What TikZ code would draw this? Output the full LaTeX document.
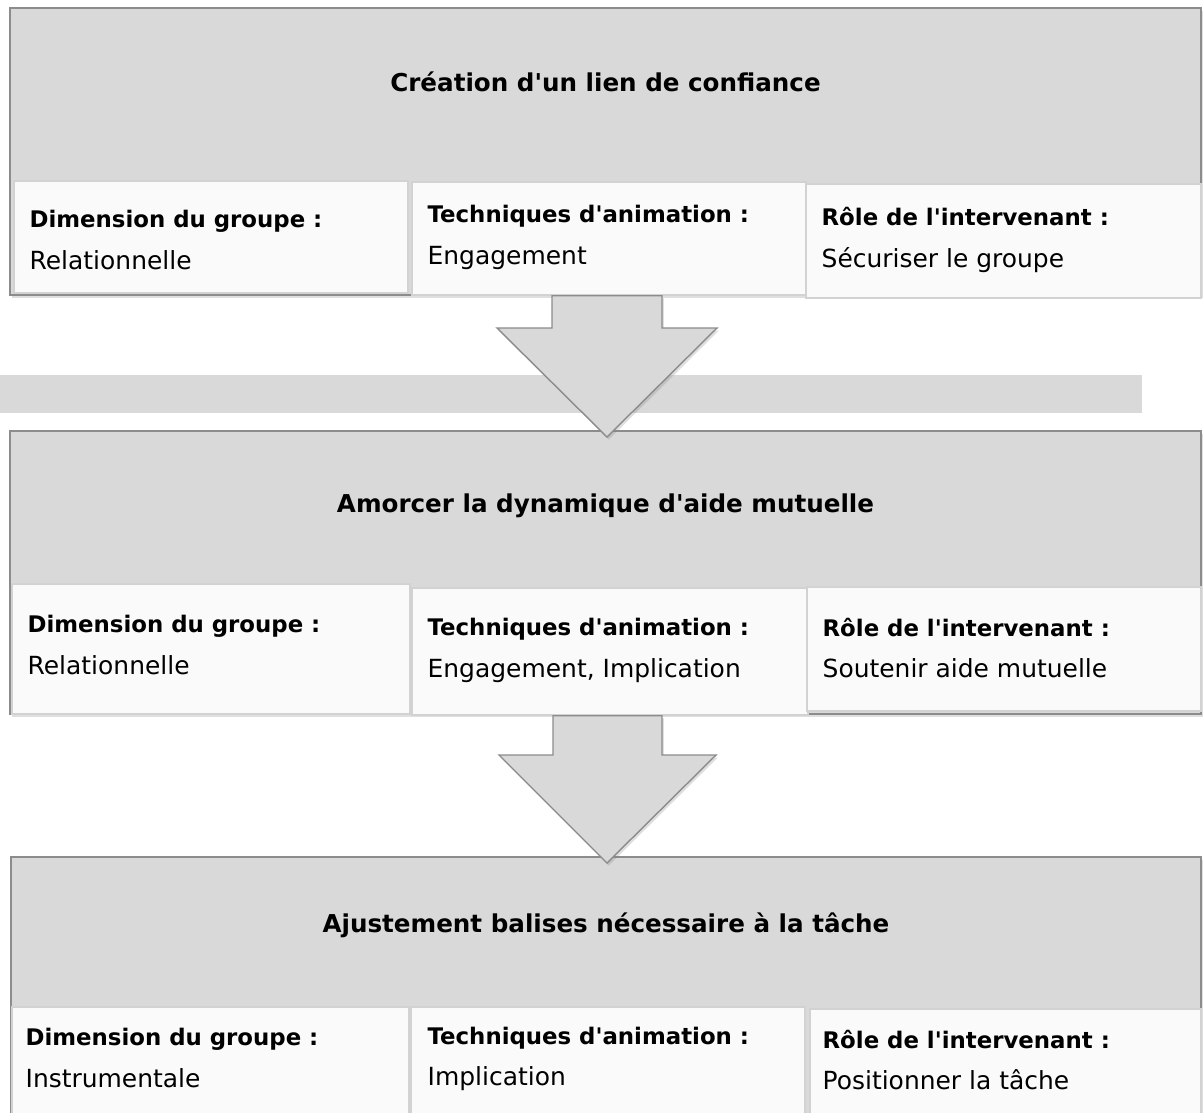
\documentclass[tikz,border=0pt]{standalone}
\usepackage{fontspec}
\setmainfont{DejaVu Sans}
\usetikzlibrary{fit,calc,shadows}
\definecolor{grisfond}{HTML}{D9D9D9}
\definecolor{grisclair}{HTML}{FAFAFA}
\definecolor{bordfonce}{HTML}{8C8C8C}
\definecolor{bordclair}{HTML}{D2D2D2}
\newcommand{\taille}{\fontsize{14.2}{23.5}\selectfont}
\newcommand{\rubrique}[1]{{\fontsize{13}{23.5}\selectfont\bfseries #1}}
\newcommand{\apo}{\textquotesingle}

\begin{document}
\begin{tikzpicture}[x=0.02cm, y=-0.02cm, font=\taille,
	panneau/.style={draw=bordfonce, fill=grisfond, inner sep=0pt, line width=0.8pt,
		drop shadow={shadow xshift=1pt, shadow yshift=-1.5pt, opacity=0.25}},
	case/.style={draw=bordclair, fill=grisclair, inner sep=0pt, line width=0.8pt},
	titre/.style={font=\fontsize{14}{17}\selectfont\bfseries, inner sep=0pt},
	texte/.style={align=left, anchor=west, inner sep=0pt},
	fleche/.style={draw=bordfonce, fill=grisfond, line width=0.8pt, line join=miter,
		drop shadow={shadow xshift=1pt, shadow yshift=-1.5pt, opacity=0.25}}
	]
	\useasboundingbox (0,0) rectangle (1203,1112);
	\clip (0,0) rectangle (1203,1112);
	
	%Etape 1
	\node[panneau, fit={(10,8) (1201,295)}] (p1) {};
	\node[case, fit={(14,181) (408,293)}]   (s11) {};
	\node[case, fit={(412,182) (806,295)}]  (s12) {};
	\node[case, fit={(806,184) (1201,298)}] (s13) {};
	\node[titre] (t1) at ($(p1.north)+(0,75)$) {Création d\apo un lien de confiance};
	\node[texte] (d11) at ($(s11.west)+(16,3)$) {\rubrique{Dimension du groupe :}\\Relationnelle};
	\node[texte] (d12) at ($(s12.west)+(16,-1)$) {\rubrique{Techniques d\apo animation :}\\Engagement};
	\node[texte] (d13) at ($(s13.west)+(16,-1)$) {\rubrique{Rôle de l\apo intervenant :}\\Sécuriser le groupe};
	
	%Etape 2
	\node[panneau, fit={(10,431) (1201,714)}] (p2) {};
	\node[case, fit={(12,584) (410,714)}]   (s21) {};
	\node[case, fit={(412,588) (808,715)}]  (s22) {};
	\node[case, fit={(807,587) (1201,711)}] (s23) {};
	\node[titre] (t2) at ($(p2.north)+(0,76)$) {Amorcer la dynamique d\apo aide mutuelle};
	\node[texte] (d21) at ($(s21.west)+(16,-4)$) {\rubrique{Dimension du groupe :}\\Relationnelle};
	\node[texte] (d22) at ($(s22.west)+(16,-1)$) {\rubrique{Techniques d\apo animation :}\\Engagement, Implication};
	\node[texte] (d23) at ($(s23.west)+(16,-1)$) {\rubrique{Rôle de l\apo intervenant :}\\Soutenir aide mutuelle};
	
	%Etape 3
	\node[panneau, fit={(11,857) (1201,1115)}] (p3) {};
	\node[case, fit={(12,1007) (409,1115)}]  (s31) {};
	\node[case, fit={(411,1007) (805,1115)}] (s32) {};
	\node[case, fit={(810,1009) (1201,1115)}] (s33) {};
	\node[titre] (t3) at ($(p3.north)+(0,69)$) {Ajustement balises nécessaire à la tâche};
	\node[texte] (d31) at ($(s31.west)+(14,-3)$) {\rubrique{Dimension du groupe :}\\Instrumentale};
	\node[texte] (d32) at ($(s32.west)+(17,-2)$) {\rubrique{Techniques d\apo animation :}\\Implication};
	\node[texte] (d33) at ($(s33.west)+(13,-2)$) {\rubrique{Rôle de l\apo intervenant :}\\Positionner la tâche};
	
	%barre grise
	\fill[grisfond] (0,375) rectangle (1142,413);
	
	%Fleches
	\coordinate (pointe1) at (607,437);
	\coordinate (pointe2) at (607,863);
	\draw[fleche] (pointe1) -- ++(-110,-109) -- ++(55,0) -- ($(pointe1 |- s12.south)+(-55,0)$)
		-- ++(110,0) -- ($(pointe1)+(55,-109)$) -- ++(55,0) -- cycle;
	\draw[fleche] (pointe2) -- ++(-108,-108) -- ++(54,0) -- ($(pointe2 |- s22.south)+(-54,0)$)
		-- ++(109,0) -- ($(pointe2)+(55,-108)$) -- ++(54,0) -- cycle;
\end{tikzpicture}
\end{document}
